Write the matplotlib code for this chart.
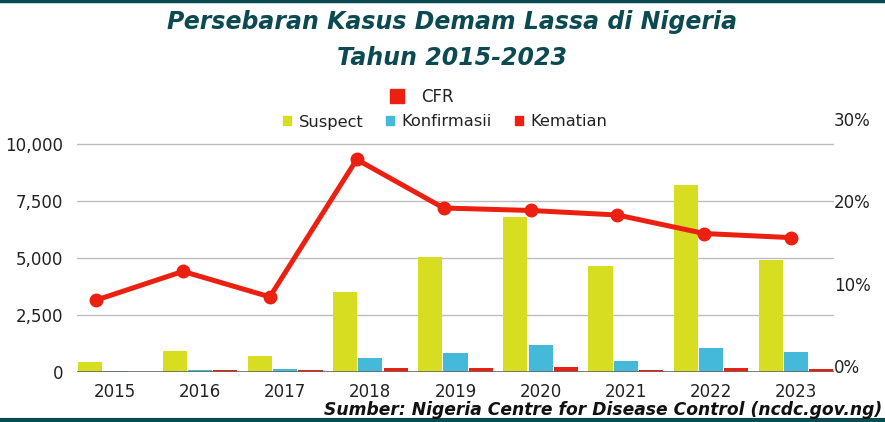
import matplotlib.pyplot as plt
from matplotlib.lines import Line2D
from matplotlib.patches import Patch
import numpy as np

# data
years = ["2015", "2016", "2017", "2018", "2019", "2020", "2021", "2022", "2023"]
suspect = [420, 900, 715, 3500, 5040, 6790, 4630, 8190, 4890]
konfirmasi = [25, 105, 145, 630, 830, 1180, 500, 1065, 890]
kematian = [20, 100, 70, 170, 175, 240, 100, 190, 150]
cfr = [8.0, 11.5, 8.4, 25.1, 19.2, 18.9, 18.35, 16.1, 15.6]   # percent

left_ticks = [0, 2500, 5000, 7500, 10000]
right_ticks = [0, 10, 20, 30]

YELLOW = "#D7DE22"
BLUE = "#44B9D9"
RED = "#EC2010"
TEAL = "#0B4A50"
TEXT = "#222222"

BAR_STEP = 0.297
BAR_W = 0.285
FONT = "DejaVu Sans"

fig = plt.figure(figsize=(8.85, 4.22), dpi=100)
ax_pos = [77 / 885, 50 / 422, 757 / 885, 255 / 422]
ax = fig.add_axes(ax_pos)

x = np.arange(len(years))
ax.bar(x - BAR_STEP, suspect, BAR_W, color=YELLOW, zorder=3)
ax.bar(x, konfirmasi, BAR_W, color=BLUE, zorder=3)
ax.bar(x + BAR_STEP, kematian, BAR_W, color=RED, zorder=3)

ax.set_xlim(-1.5 * BAR_STEP, len(years) - 1 + 1.5 * BAR_STEP)
ax.set_ylim(0, 10000 * 255 / 228.3)
ax.set_yticks(left_ticks)
ax.set_yticklabels([f"{v:,}" for v in left_ticks])
ax.set_xticks(x)
ax.set_xticklabels(years)
ax.tick_params(axis="both", length=0, labelsize=12, colors=TEXT)
ax.tick_params(axis="y", pad=10)
ax.tick_params(axis="x", pad=8)
for lab in ax.get_xticklabels() + ax.get_yticklabels():
    lab.set_fontfamily(FONT)
for v in left_ticks[1:]:
    ax.axhline(v, color="#BDBDBD", linewidth=1, zorder=1)
ax.axhline(0, color="#666666", linewidth=1.2, zorder=4)
for s in ax.spines.values():
    s.set_visible(False)

# CFR line sits on its own axes (slightly different x spacing, as in the source)
lx = fig.add_axes(ax_pos, frameon=False)
lx.set_xlim(-0.2186, 8.492)
lx.set_ylim(-0.729, 30.26)
lx.plot(x, cfr, color=RED, linewidth=3.6, marker="o", markersize=9,
        solid_joinstyle="round", zorder=5)
lx.set_xticks([])
lx.yaxis.tick_right()
lx.set_yticks(right_ticks)
lx.set_yticklabels([f"{v}%" for v in right_ticks])
lx.tick_params(axis="y", length=0, pad=0, labelsize=12, colors=TEXT)
for lab in lx.get_yticklabels():
    lab.set_fontfamily(FONT)

# legends
leg1 = fig.legend(handles=[Line2D([], [], color=RED, marker="s", linestyle="none", markersize=10.5)],
                  labels=["CFR"], loc="center", bbox_to_anchor=(417 / 885, 1 - 97 / 422),
                  frameon=False, handletextpad=0.5, prop={"family": FONT, "size": 12})
for t in leg1.get_texts():
    t.set_color(TEXT)
leg2 = fig.legend(handles=[Patch(color=YELLOW), Patch(color=BLUE), Patch(color=RED)],
                  labels=["Suspect", "Konfirmasii", "Kematian"], ncol=3, loc="center",
                  bbox_to_anchor=(445 / 885, 1 - 122 / 422), frameon=False,
                  handlelength=0.5, handleheight=0.5, handletextpad=0.45, columnspacing=1.4,
                  prop={"family": FONT, "size": 11.7})
for t in leg2.get_texts():
    t.set_color(TEXT)

# title and source
title_style = dict(ha="center", va="center", fontsize=17, fontweight="bold",
                   fontstyle="oblique", color=TEAL, family=FONT)
fig.text(452 / 885, 1 - 22 / 422, "Persebaran Kasus Demam Lassa di Nigeria", **title_style)
fig.text(452 / 885, 1 - 58 / 422, "Tahun 2015-2023", **title_style)
fig.text(882 / 885, 1 - 410 / 422, "Sumber: Nigeria Centre for Disease Control (ncdc.gov.ng)",
         ha="right", va="center", fontsize=12.3, fontweight="bold", fontstyle="oblique",
         color="#111111", family=FONT)

# teal border lines top and bottom
fig.add_artist(Line2D([0, 1], [0.997, 0.997], color=TEAL, linewidth=2.5, transform=fig.transFigure))
fig.add_artist(Line2D([0, 1], [0.004, 0.004], color=TEAL, linewidth=3, transform=fig.transFigure))

fig.savefig("out.png", dpi=100)
